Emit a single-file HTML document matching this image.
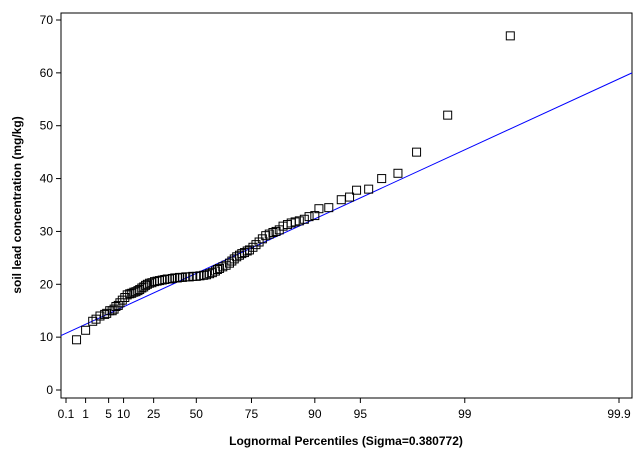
<!DOCTYPE html>
<html><head><meta charset="utf-8"><style>
body{margin:0;background:#fff;font-family:"Liberation Sans",Arial,sans-serif}
svg text{font-family:"Liberation Sans",Arial,sans-serif}
</style></head><body>
<svg id="chart" width="640" height="464" xmlns="http://www.w3.org/2000/svg">
<rect x="61" y="13" width="571" height="385" fill="none" stroke="#000" stroke-width="1"/>
<g id="axes"></g><g id="marks"></g>
<text x="346" y="445" font-size="12" font-weight="bold" text-anchor="middle">Lognormal Percentiles (Sigma=0.380772)</text>
<text transform="translate(21,205) rotate(-90)" font-size="12" font-weight="bold" text-anchor="middle">soil lead concentration (mg/kg)</text>
</svg>
<script>
const sigma = 0.380772;
const xTickLabels = [0.1, 1, 5, 10, 25, 50, 75, 90, 95, 99, 99.9];
const yTickValues = [0, 10, 20, 30, 40, 50, 60, 70];
const pointPercentiles = [0.4,1.0,1.8,2.3,3.0,4.0,4.5,5.3,6.0,6.6,7.2,8.0,8.6,9.5,10.5,11.5,12.6,13.5,14.5,15.5,16.5,17.4,18.5,19.5,20.5,21.5,22.7,24,25.5,27,28.4,30,31.5,33,34.4,36,37.5,39,40.3,42,44,46,48,50,52,54,55.5,57.1,58.5,60,61,62,63.5,65,66.5,67.5,68.5,69.5,70.6,71.5,72.5,73.5,74.3,75.5,76.5,77.5,78.5,79.5,80.5,81.5,82.3,83.1,84,85,85.8,86.6,87.4,88.3,89.1,90,90.6,91.9,93.3,94.1,94.7,95.6,96.4,97.2,97.9,98.7,99.5];
const pointValues = [9.5,11.3,13,13.4,14,14.3,14.5,15,15,15.3,15.8,16,16.5,17,17.5,18,18.2,18.3,18.5,18.6,18.8,19,19.3,19.5,19.8,20,20.2,20.3,20.5,20.6,20.7,20.8,20.9,21,21,21.1,21.2,21.2,21.3,21.3,21.4,21.4,21.5,21.5,21.6,21.7,21.8,22,22.2,22.5,22.8,23,23.3,23.6,24,24.4,24.8,25.2,25.5,25.8,26,26.3,26.5,27,27.5,28,28.6,29.2,29.5,29.8,30,30.3,31,31.3,31.6,31.8,32,32.3,32.8,33,34.3,34.5,36,36.5,37.8,38,40,41,45,52,67];
const fitThreshold = 5.67, fitScale = 16.4;

function invNorm(p){
 const a=[-39.6968302866538,220.946098424521,-275.928510446969,138.357751867269,-30.6647980661472,2.50662827745924],
 b=[-54.4760987982241,161.585836858041,-155.698979859887,66.8013118877197,-13.2806815528857],
 c=[-0.00778489400243029,-0.322396458041136,-2.40075827716184,-2.54973253934373,4.37466414146497,2.93816398269878],
 d=[0.00778469570904146,0.32246712907004,2.445134137143,3.75440866190742];
 let q,r;
 if(p<0.02425){q=Math.sqrt(-2*Math.log(p));return (((((c[0]*q+c[1])*q+c[2])*q+c[3])*q+c[4])*q+c[5])/((((d[0]*q+d[1])*q+d[2])*q+d[3])*q+1);}
 if(p>1-0.02425){q=Math.sqrt(-2*Math.log(1-p));return -(((((c[0]*q+c[1])*q+c[2])*q+c[3])*q+c[4])*q+c[5])/((((d[0]*q+d[1])*q+d[2])*q+d[3])*q+1);}
 q=p-0.5;r=q*q;return (((((a[0]*r+a[1])*r+a[2])*r+a[3])*r+a[4])*r+a[5])*q/(((((b[0]*r+b[1])*r+b[2])*r+b[3])*r+b[4])*r+1);
}
const uOf = pct => Math.exp(sigma*invNorm(pct/100));
const uMin = uOf(0.1), uMax = uOf(99.9);
const X0=66, X1=619;
const xu = u => X0 + (u-uMin)/(uMax-uMin)*(X1-X0);
const xScale = pct => xu(uOf(pct));
const yScale = v => 390 - v*(370/70);
const NS="http://www.w3.org/2000/svg";
const axes=document.getElementById('axes'), marks=document.getElementById('marks');
function mk(tag,attrs,parent){const e=document.createElementNS(NS,tag);for(const k in attrs)e.setAttribute(k,attrs[k]);parent.appendChild(e);return e;}

yTickValues.forEach(v=>{
 const y=yScale(v);
 const t=mk('line',{x1:56,x2:61,y1:y,y2:y,stroke:'#000'},axes);
 
 
 const l=mk('text',{x:53,y:y+4,'font-size':12,'text-anchor':'end'},axes);
 l.textContent=v;
 
 
});
xTickLabels.forEach(p=>{
 const x=xScale(p);
 const t=mk('line',{x1:x,x2:x,y1:398,y2:403,stroke:'#000'},axes);
 
 
 const l=mk('text',{x:x,y:418,'font-size':12,'text-anchor':'middle'},axes);
 l.textContent=p;
 
 
});
const uA = uMin + (61-X0)/(X1-X0)*(uMax-uMin), uB = uMin + (632-X0)/(X1-X0)*(uMax-uMin);
const fit=mk('line',{x1:xu(uA),y1:yScale(fitThreshold+fitScale*uA),x2:xu(uB),y2:yScale(fitThreshold+fitScale*uB),stroke:'#0000ff','stroke-width':1},marks);


pointPercentiles.forEach((p,i)=>{
 const x=xScale(p), y=yScale(pointValues[i]);
 const r=mk('rect',{x:x-4,y:y-4,width:8,height:8,fill:'none',stroke:'#000','stroke-width':1},marks);
 
 
});
</script>
</body></html>
